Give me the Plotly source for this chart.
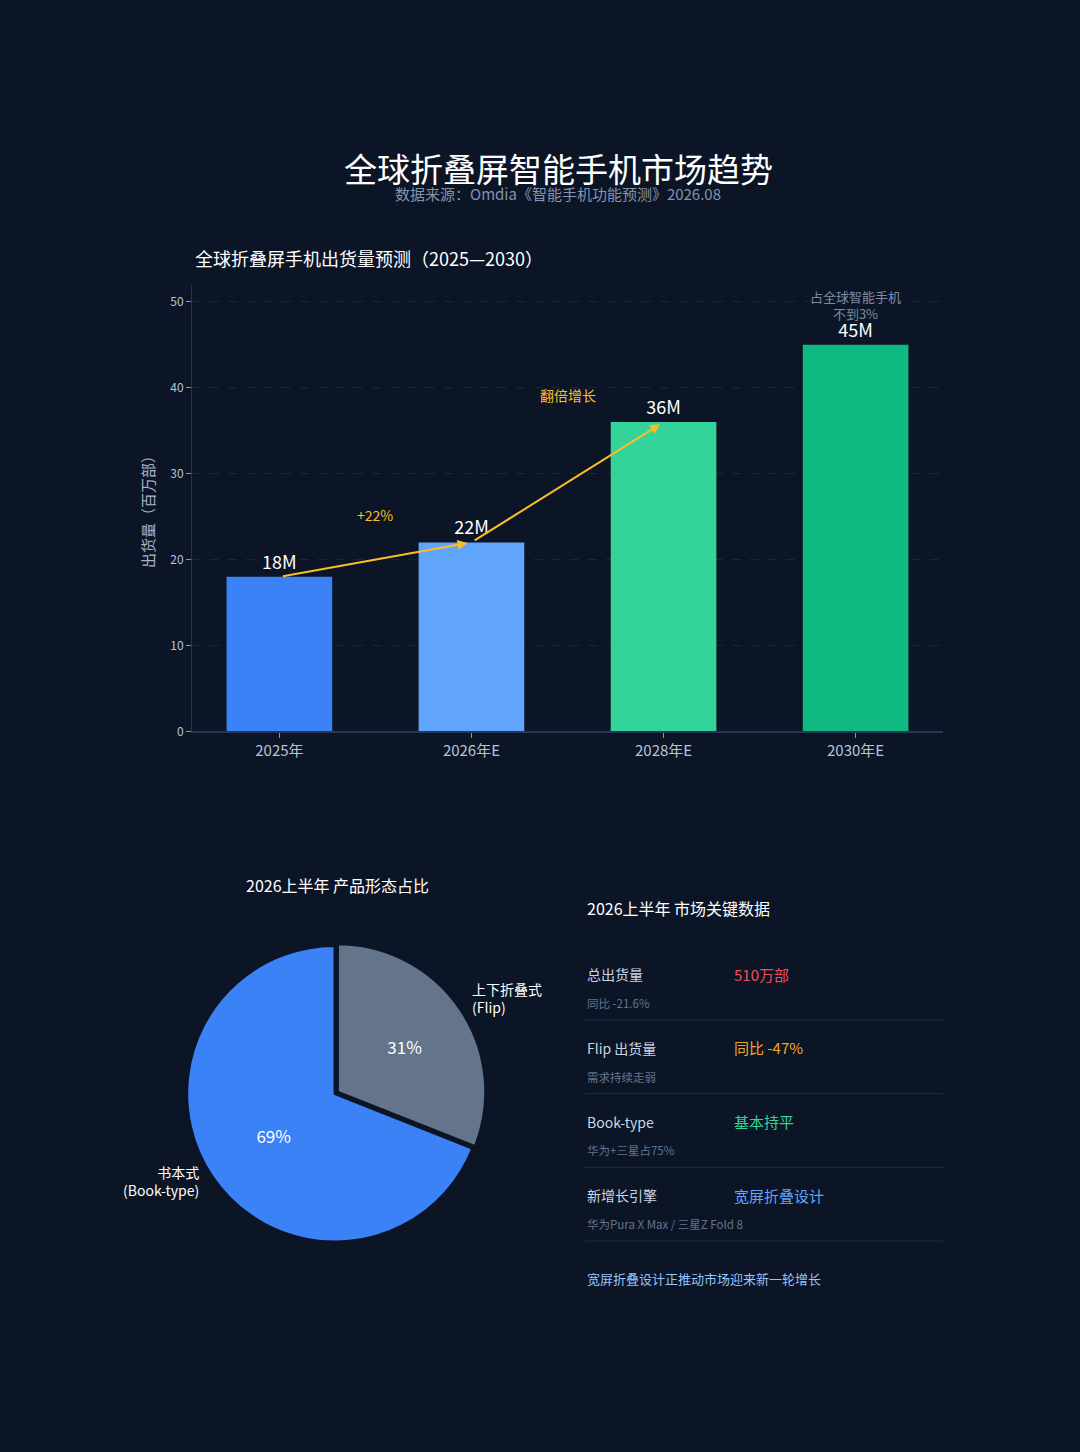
import plotly.graph_objects as go

# ---- data ----
years = ["2025年", "2026年E", "2028年E", "2030年E"]
shipments = [18, 22, 36, 45]
bar_colors = ["#3b82f6", "#60a5fa", "#34d399", "#10b981"]

pie_labels = ["上下折叠式<br>(Flip)", "书本式<br>(Book-type)"]
pie_values = [31, 69]
pie_colors = ["#64748b", "#3b82f6"]

kpi_names = ["总出货量", "Flip 出货量", "Book-type", "新增长引擎"]
kpi_values = ["510万部", "同比 -47%", "基本持平", "宽屏折叠设计"]
kpi_notes = ["同比 -21.6%", "需求持续走弱", "华为+三星占75%", "华为Pura X Max / 三星Z Fold 8"]
kpi_colors = ["#ef4f5a", "#f5a524", "#34d399", "#60a5fa"]

BG = "#0b1526"
FONT = "Noto Sans CJK SC"
W, H = 1080, 1452


def px(x):
    return x / W


def py(y):
    return 1 - y / H


fig = go.Figure()

fig.add_trace(go.Bar(
    x=years, y=shipments,
    marker=dict(color=bar_colors, line=dict(width=0)),
    width=0.55,
    text=[f"{v}M" for v in shipments],
    textposition="outside",
    textfont=dict(size=18, color="#ffffff"),
    cliponaxis=False,
    hoverinfo="x+y",
))

fig.add_trace(go.Pie(
    labels=pie_labels, values=pie_values,
    marker=dict(colors=pie_colors, line=dict(color=BG, width=3)),
    sort=False, direction="clockwise", rotation=0,
    pull=[0.02, 0],
    textinfo="percent", textposition="inside",
    insidetextorientation="horizontal",
    textfont=dict(size=17, color="#ffffff"),
    domain=dict(x=[px(183), px(487)], y=[py(1251), py(947)]),
    showlegend=False,
))

annotations = []

# titles
annotations.append(dict(text="全球折叠屏智能手机市场趋势", x=px(558), y=py(169),
                        xanchor="center", font=dict(size=33, color="#ffffff")))
annotations.append(dict(text="数据来源：Omdia《智能手机功能预测》2026.08", x=px(558), y=py(194),
                        xanchor="center", font=dict(size=15, color="#8393b0")))
annotations.append(dict(text="全球折叠屏手机出货量预测（2025—2030）", x=px(193), y=py(259),
                        xanchor="left", font=dict(size=18, color="#ffffff")))

# growth arrows on the bar chart
for i in range(len(years) - 2):
    annotations.append(dict(
        x=years[i + 1], y=shipments[i + 1], ax=years[i], ay=shipments[i],
        xref="x", yref="y", axref="x", ayref="y", text="",
        showarrow=True, arrowhead=2, arrowsize=1, arrowwidth=2,
        arrowcolor="#fbbf24", standoff=4, startstandoff=2,
    ))
annotations.append(dict(text="+22%", x=0.5, y=25.2, xref="x", yref="y",
                        xanchor="center", font=dict(size=14, color="#fbbf24")))
annotations.append(dict(text="翻倍增长", x=1.5, y=39.1, xref="x", yref="y",
                        xanchor="center", font=dict(size=14, color="#fbbf24")))
annotations.append(dict(text="占全球智能手机<br>不到3%", x=years[3], y=49.6, xref="x", yref="y",
                        xanchor="center", font=dict(size=13, color="#8a98b0"), opacity=0.9))

# pie section
annotations.append(dict(text="2026上半年 产品形态占比", x=px(337), y=py(889),
                        xanchor="center", font=dict(size=16, color="#ffffff")))
annotations.append(dict(text=pie_labels[0], x=px(470), y=py(1003), xanchor="left",
                        align="left", font=dict(size=14, color="#ffffff")))
annotations.append(dict(text=pie_labels[1], x=px(201), y=py(1187), xanchor="right",
                        align="right", font=dict(size=14, color="#ffffff")))

# key data panel
annotations.append(dict(text="2026上半年 市场关键数据", x=px(585), y=py(912), xanchor="left",
                        font=dict(size=16, color="#ffffff")))
shapes = []
for i in range(len(kpi_names)):
    y0 = 979 + 74 * i
    annotations.append(dict(text=kpi_names[i], x=px(585), y=py(y0), xanchor="left",
                            font=dict(size=14, color="#cbd5e1")))
    annotations.append(dict(text=kpi_values[i], x=px(732), y=py(y0), xanchor="left",
                            font=dict(size=15, color=kpi_colors[i])))
    annotations.append(dict(text=kpi_notes[i], x=px(585), y=py(y0 + 29), xanchor="left",
                            font=dict(size=11.5, color="#64748b")))
    shapes.append(dict(type="line", xref="paper", yref="paper",
                       x0=px(585), x1=px(943), y0=py(y0 + 46), y1=py(y0 + 46),
                       line=dict(color="#1c2a40", width=1.2)))
annotations.append(dict(text="宽屏折叠设计正推动市场迎来新一轮增长", x=px(585), y=py(1285),
                        xanchor="left", font=dict(size=13, color="#93c5fd")))

for a in annotations:
    a.setdefault("xref", "paper")
    a.setdefault("yref", "paper")
    a.setdefault("showarrow", False)
    a.setdefault("yanchor", "middle")

fig.update_layout(
    width=W, height=H,
    paper_bgcolor=BG, plot_bgcolor=BG,
    margin=dict(l=0, r=0, t=0, b=0),
    font=dict(family=FONT, color="#cbd5e1"),
    showlegend=False,
    annotations=annotations,
    shapes=shapes,
    xaxis=dict(
        domain=[px(192), px(943)], range=[-0.455, 3.455],
        showline=True, linecolor="#263754", linewidth=1.5,
        ticks="outside", ticklen=5, tickcolor="#8a98b0",
        tickfont=dict(size=15, color="#b8c4d6"),
        showgrid=False, zeroline=False, fixedrange=True,
    ),
    yaxis=dict(
        domain=[py(735), py(286)], range=[0, 52],
        dtick=10, showline=True, linecolor="#1e3556", linewidth=1,
        ticks="outside", ticklen=5, tickcolor="#8a98b0",
        tickfont=dict(size=12, color="#b8c4d6"),
        showgrid=True, gridcolor="#1a2638", griddash="dash", gridwidth=1,
        zeroline=False, fixedrange=True,
        title=dict(text="出货量（百万部）", font=dict(size=15, color="#a8b4c8"), standoff=12),
    ),
)

fig.write_html(
    "out.html",
    config={"displayModeBar": False},
    post_script="document.body.style.margin='0';document.body.style.background='%s';" % BG,
)
